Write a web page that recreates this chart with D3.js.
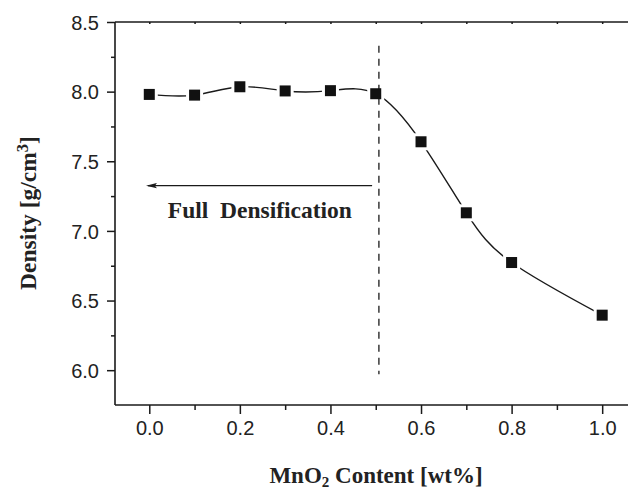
<!DOCTYPE html>
<html>
<head>
<meta charset="utf-8">
<script src="https://cdn.jsdelivr.net/npm/d3@7"></script>
<style>
  body { margin: 0; background: #fff; }
  .title { font-family: "Liberation Serif", "Times New Roman", serif; font-weight: bold; fill: #222; }
</style>
</head>
<body>
<svg id="vis-svg"></svg>
<script>
// data
const mnO2 = [0.0, 0.1, 0.2, 0.3, 0.4, 0.5, 0.6, 0.7, 0.8, 1.0];
const density = [7.98, 7.975, 8.035, 8.005, 8.007, 7.985, 7.64, 7.13, 6.773, 6.395];
const xTicks = [0.0, 0.2, 0.4, 0.6, 0.8, 1.0];
const yTicks = [6.0, 6.5, 7.0, 7.5, 8.0, 8.5];
const dashAt = 0.507; // vertical dashed marker

let svg = d3.select("#vis-svg")
    .attr("width", 628)
    .attr("height", 490);

let xScale = d3.scaleLinear()
    .domain([-0.0757, 1.057])
    .range([115, 628]);

let yScale = d3.scaleLinear()
    .domain([5.75, 8.5])
    .range([405, 22]);

const ink = "#1a1a1a";

// minor ticks first
let xMinor = d3.axisBottom(xScale).tickValues(d3.range(0.1, 1.0, 0.2)).tickSize(5).tickFormat("");
let yMinor = d3.axisLeft(yScale).tickValues([6.25, 6.75, 7.25, 7.75, 8.25]).tickSize(4).tickFormat("");

let xAxis = d3.axisBottom(xScale).tickValues(xTicks).tickSize(9).tickPadding(7).tickFormat(d3.format(".1f"));
let yAxis = d3.axisLeft(yScale).tickValues(yTicks).tickSize(8).tickPadding(8).tickFormat(d3.format(".1f"));
let topAxis = d3.axisTop(xScale).tickValues(d3.range(0, 1.05, 0.1)).tickSize(-2).tickFormat("");

svg.append("g").attr("class", "xMinor").attr("transform", "translate(0,405)").call(xMinor);
svg.append("g").attr("class", "yMinor").attr("transform", "translate(115,0)").call(yMinor);
svg.append("g").attr("class", "xAxis").attr("transform", "translate(0,405)").call(xAxis);
svg.append("g").attr("class", "yAxis").attr("transform", "translate(115,0)").call(yAxis);
svg.append("g").attr("class", "topAxis").attr("transform", "translate(0,22)").call(topAxis);

svg.selectAll(".domain").remove();
svg.selectAll(".tick line").attr("stroke", ink).attr("stroke-width", 1.5);
svg.selectAll(".xAxis .tick text, .yAxis .tick text")
    .style("font-family", "'Liberation Sans', Arial, sans-serif")
    .style("font-size", "20px")
    .attr("fill", "#222");
svg.selectAll(".yAxis .tick text").attr("dy", "0.36em");

// frame lines
svg.append("line").attr("x1", 115).attr("x2", 628).attr("y1", 405).attr("y2", 405)
    .attr("stroke", ink).attr("stroke-width", 1.6);
svg.append("line").attr("x1", 115).attr("x2", 628).attr("y1", 22).attr("y2", 22)
    .attr("stroke", ink).attr("stroke-width", 1.6);
svg.append("line").attr("x1", 115).attr("x2", 115).attr("y1", 22).attr("y2", 405)
    .attr("stroke", ink).attr("stroke-width", 1.6);

// arrow + label
svg.append("defs").append("marker")
    .attr("id", "head").attr("viewBox", "0 0 11 6")
    .attr("refX", 9).attr("refY", 3)
    .attr("markerWidth", 11).attr("markerHeight", 6)
    .attr("markerUnits", "userSpaceOnUse")
    .attr("orient", "auto")
    .append("path").attr("d", "M11,3L0,0.3L2,3L0,5.7Z").attr("fill", ink);

svg.append("line")
    .attr("x1", xScale(0.492)).attr("x2", xScale(-0.003))
    .attr("y1", yScale(7.325)).attr("y2", yScale(7.325))
    .attr("stroke", ink).attr("stroke-width", 1.3)
    .attr("marker-end", "url(#head)");

svg.append("text").attr("class", "title")
    .attr("x", xScale(0.041)).attr("y", yScale(7.09))
    .attr("font-size", 23.5)
    .attr("xml:space", "preserve")
    .style("white-space", "pre")
    .text("Full  Densification");

// curve
let line = d3.line()
    .x(d => xScale(d[0]))
    .y(d => yScale(d[1]))
    .curve(d3.curveNatural);

let pts = mnO2.map((m, i) => [m, density[i]]);

svg.append("path")
    .datum(pts)
    .attr("d", line)
    .attr("fill", "none")
    .attr("stroke", ink)
    .attr("stroke-width", 1.4);

// markers with white halo
svg.selectAll("rect.halo")
    .data(pts)
    .enter()
        .append("rect")
        .attr("class", "halo")
        .attr("x", d => xScale(d[0]) - 8.5)
        .attr("y", d => yScale(d[1]) - 8.5)
        .attr("width", 17).attr("height", 17)
        .attr("fill", "#fff");

svg.selectAll("rect.pt")
    .data(pts)
    .enter()
        .append("rect")
        .attr("class", "pt")
        .attr("x", d => xScale(d[0]) - 5.5)
        .attr("y", d => yScale(d[1]) - 5.5)
        .attr("width", 11).attr("height", 11)
        .attr("fill", "#111");

// dashed line, on top of the halos
svg.append("line")
    .attr("x1", xScale(dashAt)).attr("x2", xScale(dashAt))
    .attr("y1", yScale(8.33)).attr("y2", yScale(5.97))
    .attr("stroke", ink).attr("stroke-width", 1.3)
    .attr("stroke-dasharray", "7,6");
svg.selectAll("rect.pt").raise();

// axis titles
let yt = svg.append("text").attr("class", "title")
    .attr("transform", "translate(36,213) rotate(-90)")
    .attr("text-anchor", "middle")
    .attr("font-size", 23.5);
yt.append("tspan").text("Density [g/cm");
yt.append("tspan").attr("dy", -8).attr("font-size", 16.5).text("3");
yt.append("tspan").attr("dy", 8).text("]");

let xt = svg.append("text").attr("class", "title")
    .attr("x", 376).attr("y", 483)
    .attr("text-anchor", "middle")
    .attr("font-size", 23);
xt.append("tspan").text("MnO");
xt.append("tspan").attr("dy", 4).attr("font-size", 15).text("2");
xt.append("tspan").attr("dy", -4).text(" Content [wt%]");
</script>
</body>
</html>
